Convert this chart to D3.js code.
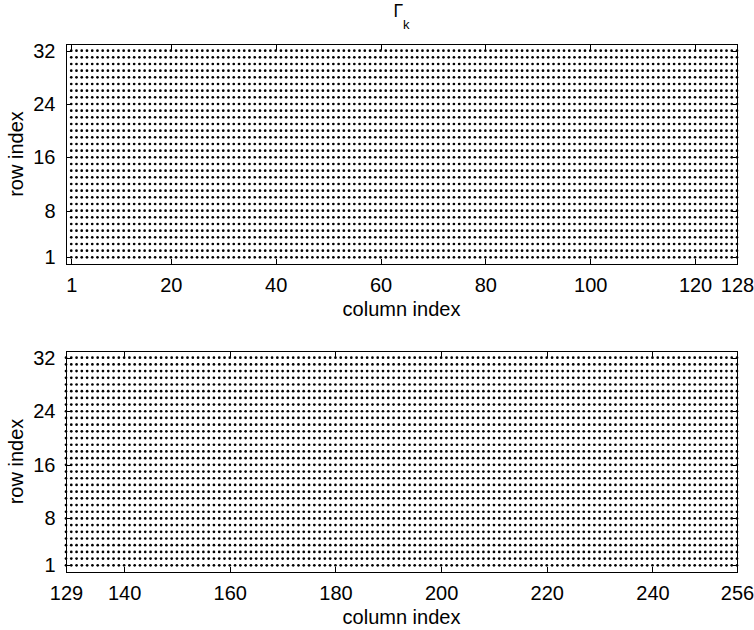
<!DOCTYPE html>
<html>
<head>
<meta charset="utf-8">
<script src="https://cdn.jsdelivr.net/npm/d3@7"></script>
<style>
  body { margin: 0; background: #fff; }
  text { font-family: "Liberation Sans", Arial, sans-serif; fill: #000; }
</style>
</head>
<body>
<div id="chart"></div>
<script>
// matrix shape: 32 rows, 256 columns, split in two halves; every entry non-zero
const rowIndex = d3.range(1, 33)
const colsTop = d3.range(1, 129)
const colsBottom = d3.range(129, 257)

const xTicksTop = [1, 20, 40, 60, 80, 100, 120, 128]
const xTicksBottom = [129, 140, 160, 180, 200, 220, 240, 256]
const yTicks = [1, 8, 16, 24, 32]

const W = 754
const H = 630
const fontSize = 20
const tickLen = 5.5

const svg = d3.select('#chart').append('svg')
  .attr('width', W)
  .attr('height', H)

// title
const title = svg.append('text')
  .attr('x', 401.5)
  .attr('y', 17)
  .attr('text-anchor', 'middle')
  .style('font-size', '17.5px')
title.append('tspan').text('\u0393')
title.append('tspan').attr('dy', 12).style('font-size', '13px').text('k')

const panels = [
  { top: 44, height: 220, domain: [0, 128], cols: colsTop, ticks: xTicksTop },
  { top: 351, height: 221, domain: [129, 256], cols: colsBottom, ticks: xTicksBottom },
]

panels.forEach(p => {
  const left = 66
  const width = 671
  const g = svg.append('g').attr('transform', `translate(${left},${p.top})`)

  const x = d3.scaleLinear().domain(p.domain).range([0, width])
  const y = d3.scaleLinear().domain([0, 33]).range([p.height, 0])

  // dots
  const cells = []
  rowIndex.forEach(r => p.cols.forEach(c => cells.push([c, r])))
  g.append('g')
    .selectAll('circle')
    .data(cells)
    .join('circle')
      .attr('cx', d => x(d[0]))
      .attr('cy', d => y(d[1]))
      .attr('r', 1.35)
      .attr('fill', '#000')

  // box
  g.append('rect')
    .attr('width', width)
    .attr('height', p.height)
    .attr('fill', 'none')
    .attr('stroke', '#000')
    .attr('stroke-width', 1)
    .attr('shape-rendering', 'crispEdges')

  // axes with inward ticks
  const xBottom = d3.axisBottom(x).tickValues(p.ticks).tickSize(-tickLen).tickPadding(tickLen + 8).tickFormat(d3.format('d'))
  const xTop = d3.axisTop(x).tickValues(p.ticks).tickSize(-tickLen).tickFormat('')
  const yLeft = d3.axisLeft(y).tickValues(yTicks).tickSize(-tickLen).tickPadding(tickLen + 5).tickFormat(d3.format('d'))
  const yRight = d3.axisRight(y).tickValues(yTicks).tickSize(-tickLen).tickFormat('')

  const gxb = g.append('g').attr('transform', `translate(0,${p.height})`).call(xBottom)
  const gxt = g.append('g').call(xTop)
  const gyl = g.append('g').call(yLeft)
  const gyr = g.append('g').attr('transform', `translate(${width},0)`).call(yRight)

  ;[gxb, gxt, gyl, gyr].forEach(a => {
    a.select('.domain').remove()
    a.selectAll('line').attr('stroke', '#000').attr('shape-rendering', 'crispEdges')
    a.selectAll('text')
      .style('font-family', '"Liberation Sans", Arial, sans-serif')
      .style('font-size', `${fontSize}px`)
      .attr('fill', '#000')
  })

  // axis labels
  g.append('text')
    .attr('x', width / 2)
    .attr('y', p.height + 52)
    .attr('text-anchor', 'middle')
    .style('font-size', `${fontSize}px`)
    .text('column index')

  g.append('text')
    .attr('transform', `translate(${23 - left},${p.height / 2}) rotate(-90)`)
    .attr('text-anchor', 'middle')
    .style('font-size', `${fontSize}px`)
    .text('row index')
})
</script>
</body>
</html>
